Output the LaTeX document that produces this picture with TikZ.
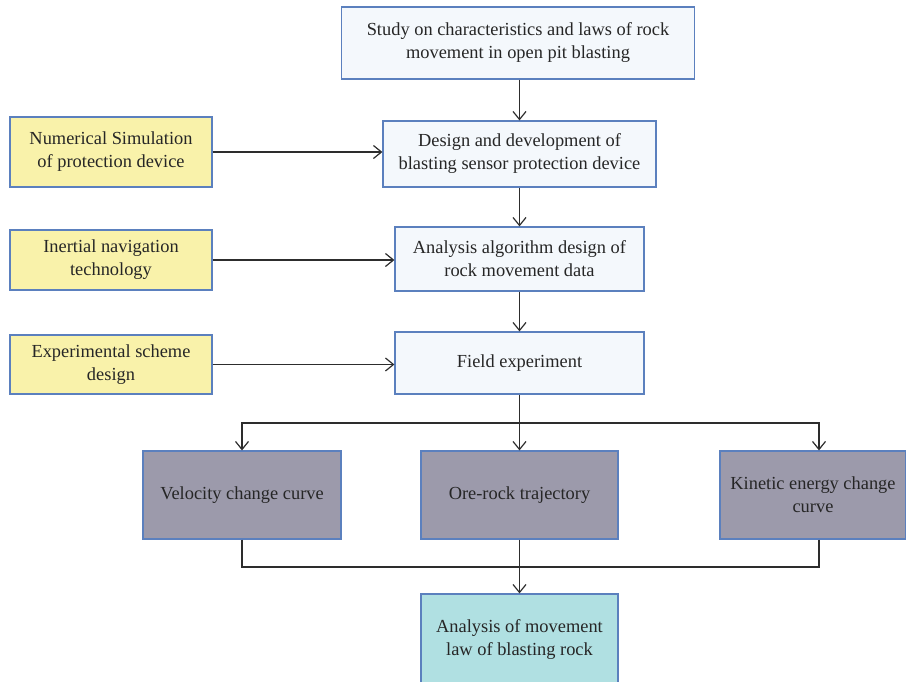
\documentclass[tikz,border=0pt]{standalone}
\usepackage{fontspec}
\setmainfont{Liberation Serif}
\usetikzlibrary{arrows.meta,positioning}
\definecolor{stepblue}{RGB}{244,248,252}
\definecolor{sideyellow}{RGB}{249,242,170}
\definecolor{resgrey}{RGB}{156,154,171}
\definecolor{finalteal}{RGB}{176,224,226}
\definecolor{edgeblue}{RGB}{91,128,190}
\definecolor{linegrey}{RGB}{45,45,45}

\begin{document}
\begin{tikzpicture}[
    x=0.5pt, y=-0.5pt,
    box/.style={rectangle, draw=edgeblue, line width=0.6pt, align=center, inner sep=0pt, text=black!85, font=\fontsize{9.2}{11.5}\selectfont},
    stepbox/.style={box, fill=stepblue},
    sidebox/.style={box, fill=sideyellow, minimum width=101pt},
    outbox/.style={box, fill=resgrey, minimum height=44pt},
    finalbox/.style={box, fill=finalteal, minimum width=98.5pt, minimum height=45pt},
    line/.style={draw=linegrey, line width=0.6pt},
    arrow/.style={line, ->, >={Straight Barb[length=4pt,width=6.5pt]}}
]
\clip (0,0) rectangle (906,681);
% main column
\node[stepbox, minimum width=176.5pt, minimum height=36pt] (study) at (518,43) {Study on characteristics and laws of rock\\movement in open pit blasting};
\node[stepbox, minimum width=136.5pt, minimum height=33pt] (design) at (519.5,154) {Design and development of\\blasting sensor protection device};
\node[stepbox, minimum width=124.5pt, minimum height=32pt] (algo) at (519.5,259) {Analysis algorithm design of\\rock movement data};
\node[stepbox, minimum width=124.5pt, minimum height=31pt] (field) at (519.5,363) {Field experiment};

% side inputs
\node[sidebox, minimum height=35pt] (numsim) at (111,152) {Numerical Simulation\\of protection device};
\node[sidebox, minimum height=30pt] (inertial) at (111,260) {Inertial navigation\\technology};
\node[sidebox, minimum height=29.5pt] (scheme) at (111,364.5) {Experimental scheme\\design};

% results
\node[outbox, minimum width=99pt] (velocity) at (242,495) {Velocity change curve};
\node[outbox, minimum width=98.5pt] (trajectory) at (519.5,495) {Ore-rock trajectory};
\node[outbox, minimum width=93pt] (kinetic) at (813,495) {Kinetic energy change\\curve};
\node[finalbox] (final) at (519.5,639) {Analysis of movement\\law of blasting rock};

\coordinate (split) at (519.5,423);
\coordinate (merge) at (519.5,567);

\draw[arrow] (design.north |- study.south) -- (design);
\draw[arrow] (design) -- (algo);
\draw[arrow] (algo) -- (field);
\draw[arrow] (numsim.east) -- (numsim.east -| design.west);
\draw[arrow] (inertial.east) -- (inertial.east -| algo.west);
\draw[arrow] (scheme.east) -- (scheme.east -| field.west);

\draw[line] (field) -- (split);
\draw[arrow] (split) -| (velocity.north);
\draw[arrow] (split) -- (trajectory);
\draw[arrow] (split) -| ([xshift=3pt]kinetic.north);

\draw[line] (velocity.south) |- (merge);
\draw[line] ([xshift=3pt]kinetic.south) |- (merge);
\draw[line] (trajectory) -- (merge);
\draw[arrow] (merge) -- (final);
\end{tikzpicture}
\end{document}
